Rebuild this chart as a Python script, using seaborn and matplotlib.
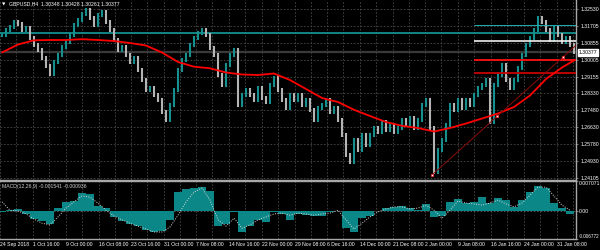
import numpy as np
import matplotlib
matplotlib.use("Agg")
import matplotlib.pyplot as plt
import seaborn as sns

# ---------------- data ----------------
closes = [1.3125, 1.3150, 1.3165, 1.3190, 1.3180, 1.3150, 1.3160, 1.3110, 1.3075, 1.3050,
          1.3010, 1.2970, 1.2930, 1.2990, 1.3025, 1.3065, 1.3090, 1.3125, 1.3175, 1.3200,
          1.3230, 1.3250, 1.3210, 1.3175, 1.3225, 1.3240, 1.3190, 1.3150, 1.3100, 1.3050,
          1.3065, 1.3025, 1.2990, 1.3010, 1.2950, 1.2900, 1.2850, 1.2860, 1.2825, 1.2800,
          1.2740, 1.2700, 1.2775, 1.2850, 1.2950, 1.3000, 1.3025, 1.3075, 1.3110, 1.3135,
          1.3150, 1.3125, 1.3060, 1.3025, 1.2925, 1.2875, 1.2975, 1.3025, 1.3050, 1.2775,
          1.2825, 1.2850, 1.2825, 1.2800, 1.2860, 1.2810, 1.2790, 1.2875, 1.2910, 1.2850,
          1.2800, 1.2760, 1.2825, 1.2800, 1.2825, 1.2775, 1.2800, 1.2750, 1.2700, 1.2760,
          1.2775, 1.2800, 1.2740, 1.2760, 1.2700, 1.2625, 1.2525, 1.2490, 1.2600, 1.2550,
          1.2625, 1.2575, 1.2625, 1.2660, 1.2640, 1.2690, 1.2650, 1.2675, 1.2640, 1.2660,
          1.2700, 1.2675, 1.2710, 1.2660, 1.2700, 1.2775, 1.2800, 1.2660, 1.2440, 1.2550,
          1.2600, 1.2675, 1.2775, 1.2750, 1.2800, 1.2760, 1.2800, 1.2775, 1.2825, 1.2860,
          1.2875, 1.2900, 1.2690, 1.2875, 1.2925, 1.2975, 1.2900, 1.2860, 1.2900, 1.2960,
          1.3025, 1.3075, 1.3110, 1.3150, 1.3210, 1.3190, 1.3150, 1.3100, 1.3160, 1.3125,
          1.3090, 1.3110, 1.3075, 1.3040]

ma_idx = [0, 4, 8, 12, 16, 20, 24, 28, 32, 36, 40, 44, 48, 52, 56, 60, 64, 68, 72, 76,
          80, 84, 88, 92, 96, 100, 104, 108, 112, 116, 120, 124, 128, 132, 136, 140, 143]
ma_vals = [1.30375, 1.30775, 1.30985, 1.3100, 1.3100, 1.3104, 1.3100, 1.3095, 1.3085, 1.30725,
           1.30375, 1.2990, 1.29665, 1.29585, 1.29375, 1.29275, 1.2925, 1.29325, 1.2900, 1.2855,
           1.2810, 1.2790, 1.2751, 1.2720, 1.2690, 1.2671, 1.2660, 1.26425, 1.2660, 1.26825,
           1.27075, 1.27325, 1.2765, 1.28225, 1.2905, 1.29625, 1.29975]

macd_hist = [-0.0003, 0.0001, 0.0004, -0.0008, -0.0020, -0.0025, -0.0032, 0.0006, 0.0021, 0.0023,
             0.0042, 0.0040, 0.0011, 0.0006, -0.0015, -0.0025, -0.0032, -0.0037, -0.0046, -0.0051,
             -0.0049, -0.0022, 0.0044, 0.0052, 0.0054, 0.0056, 0.0047, -0.0037, -0.0032, -0.0003,
             -0.0051, -0.0037, -0.0022, -0.0027, -0.0003, -0.0008, -0.0022, -0.0008, -0.0011, -0.0013,
             -0.0013, -0.0003, -0.0001, -0.0042, -0.0051, -0.0018, -0.0013, -0.0001, 0.0006, 0.0009,
             0.0011, 0.0006, 0.0001, 0.0016, -0.0015, -0.0013, 0.0021, 0.0028, 0.0018, 0.0021,
             0.0032, 0.0018, 0.0030, 0.0025, 0.0009, 0.0025, 0.0044, 0.0059, 0.0054, 0.0018,
             0.0006, -0.0008]
macd_signal = [0.0021, 0.0001, -0.0001, -0.0008, -0.0020, -0.0030, -0.0034, -0.0015, 0.0006, 0.0021,
               0.0035, 0.0032, 0.0018, 0.0001, -0.0013, -0.0022, -0.0030, -0.0037, -0.0044, -0.0051,
               -0.0051, -0.0039, -0.0011, 0.0021, 0.0044, 0.0054, 0.0025, -0.0022, -0.0037, -0.0018,
               -0.0042, -0.0034, -0.0022, -0.0015, -0.0008, -0.0006, -0.0011, -0.0006, -0.0008, -0.0011,
               -0.0008, -0.0006, 0.0001, -0.0022, -0.0044, -0.0030, -0.0015, -0.0003, 0.0004, 0.0009,
               0.0009, 0.0004, 0.0006, 0.0013, 0.0001, -0.0018, 0.0001, 0.0023, 0.0018, 0.0016,
               0.0013, 0.0018, 0.0025, 0.0016, 0.0009, 0.0018, 0.0037, 0.0056, 0.0056, 0.0035,
               0.0013, 0.0001]
macd_idx = list(range(0, 144, 2))

price_ticks = [1.32530, 1.31705, 1.30855, 1.30005, 1.29155, 1.28330, 1.27480, 1.26630,
               1.25780, 1.24930, 1.24105]
macd_ticks = [0.007071, 0.0, -0.006772]
macd_tick_labels = ["0.007071", "0.00", "-0.006772"]

date_labels = ["24 Sep 2018", "1 Oct 16:00", "9 Oct 00:00", "16 Oct 08:00", "23 Oct 16:00",
               "31 Oct 00:00", "7 Nov 08:00", "14 Nov 16:00", "22 Nov 00:00", "29 Nov 08:00",
               "6 Dec 16:00", "14 Dec 00:00", "21 Dec 08:00", "2 Jan 00:00", "9 Jan 08:00",
               "16 Jan 16:00", "24 Jan 00:00", "31 Jan 08:00"]
date_pos = [-0.5, 7.75, 16, 24.25, 32.25, 40.5, 48.5, 56.75, 65, 73.25, 81.25, 89.5,
            97.75, 105.75, 114, 122.25, 130.5, 138.75]

current_price = 1.30377
full_levels = [(1.31335, "#159a9a", 1.2), (current_price, "#3a3a3a", 1.6)]
part_levels = [(1.31735, "#1fb0b0", 0.7), (1.30965, "#f0f0f0", 1.2),
               (1.30000, "#ff1010", 1.3), (1.29365, "#c80000", 1.3)]
levels_start = 118

trend_idx = [107.5, 123.75, 140.25]
trend_price = [1.2425, 1.2720, 1.3015]

title_text = "GBPUSD,H4  1.30348 1.30428 1.30261 1.30377"
macd_text = "MACD(12,26,9) -0.001541 -0.000936"

# ---------------- style ----------------
sns.set_style("dark", rc={"axes.facecolor": "black", "figure.facecolor": "black"})
FONT = ["Liberation Sans Narrow", "Liberation Sans", "DejaVu Sans"]
plt.rcParams["font.family"] = FONT
FS = 3.7
TEAL = "#16908f"
GRAY = "#b4b4b4"
GRID = "#4a4a4a"
FRAME = "#a8a8a8"

fig = plt.figure(figsize=(6, 2.5), dpi=100, facecolor="black")
ax = fig.add_axes([0, 0.282, 0.96, 0.718])
ax2 = fig.add_axes([0, 0.044, 0.96, 0.232])

xlim = (-0.5, 143.5)

# ---------------- main price panel ----------------
close = np.array(closes)
openp = np.r_[close[0], close[:-1]]
idx = np.arange(len(close))
up = close >= openp
wick = 0.0011
lo = np.minimum(openp, close) - wick
hi = np.maximum(openp, close) + wick
ax.vlines(idx[~up], lo[~up], hi[~up], color=GRAY, lw=1.5, zorder=3)
ax.vlines(idx[up], lo[up], hi[up], color=TEAL, lw=1.5, zorder=3)

for val, col, lw in full_levels:
    ax.axhline(val, color=col, lw=lw, zorder=2)
for val, col, lw in part_levels:
    ax.hlines(val, levels_start, xlim[1], color=col, lw=lw, zorder=4)

sns.lineplot(x=ma_idx, y=ma_vals, ax=ax, color="#ff0000", lw=1.3, zorder=5)

# trend line through anchors, extended to the right edge
slope = (trend_price[-1] - trend_price[0]) / (trend_idx[-1] - trend_idx[0])
tx = [trend_idx[0], xlim[1]]
ty = [trend_price[0], trend_price[0] + slope * (xlim[1] - trend_idx[0])]
ax.plot(tx, ty, color="#8b0a0a", lw=0.7, zorder=5)
ax.scatter(trend_idx, trend_price, marker="s", s=4, facecolor="white",
           edgecolor="#ff2020", linewidth=0.5, zorder=6)

ax.set_xlim(*xlim)
ax.set_ylim(1.24025, 1.3300)
ax.set_yticks(price_ticks)
ax.set_yticklabels([f"{p:.5f}" for p in price_ticks])
ax.yaxis.tick_right()
ax.tick_params(axis="y", colors="white", labelsize=FS, length=1.5, width=0.5, pad=1.5,
               color=FRAME)
ax.set_xticks(date_pos)
ax.set_xticks([p + 4.1 for p in date_pos], minor=True)
ax.tick_params(axis="x", which="both", length=0, labelbottom=False)
ax.grid(True, which="both", color=GRID, lw=0.6, ls=(0, (2, 2)))
for s in ["top", "left"]:
    ax.spines[s].set_visible(False)
for s in ["right", "bottom"]:
    ax.spines[s].set_color(FRAME)
    ax.spines[s].set_linewidth(1.0)

ax.text(1.005, current_price, f"{current_price:.5f}", transform=ax.get_yaxis_transform(),
        fontsize=FS, color="black", va="center", ha="left",
        bbox=dict(boxstyle="square,pad=0.12", fc="white", ec="white"), zorder=10)

fig.text(0.004, 0.984, "\u25bc", fontsize=3.2, color="white", va="center", ha="left",
         family=["DejaVu Sans"])
fig.text(0.015, 0.984, title_text, fontsize=FS, color="white", va="center", ha="left")

# ---------------- MACD panel ----------------
ax2.bar(macd_idx, macd_hist, width=2.0, color="#0b8787", linewidth=0, zorder=3)
sns.lineplot(x=macd_idx, y=macd_signal, ax=ax2, color="#d8d8d8", lw=0.7,
             linestyle=(0, (1, 1.5)), zorder=4)
ax2.axhline(0, color="#5a5a5a", lw=0.6, ls=(0, (2, 2)), zorder=2)
ax2.set_xlim(*xlim)
ax2.set_ylim(-0.006772, 0.007071)
ax2.set_yticks(macd_ticks)
ax2.set_yticklabels(macd_tick_labels)
ax2.yaxis.tick_right()
ax2.tick_params(axis="y", colors="white", labelsize=FS, length=1.2, width=0.5, pad=0.8,
                color=FRAME)
tl = ax2.get_yticklabels()
tl[0].set_va("top")
tl[2].set_va("bottom")
tl[2].set_fontsize(3.3)
ax2.set_xticks(date_pos)
ax2.set_xticklabels(date_labels, ha="left")
ax2.set_xticks([p + 4.1 for p in date_pos], minor=True)
ax2.tick_params(axis="x", which="major", colors="white", labelsize=FS, length=1.5,
                width=0.5, pad=1, color=FRAME)
ax2.tick_params(axis="x", which="minor", length=0)
ax2.grid(True, axis="x", which="both", color=GRID, lw=0.6, ls=(0, (2, 2)))
ax2.grid(False, axis="y")
ax2.spines["left"].set_visible(False)
for s in ["top", "right", "bottom"]:
    ax2.spines[s].set_color(FRAME)
    ax2.spines[s].set_linewidth(1.0)
ax2.text(0.004, 0.95, macd_text, transform=ax2.transAxes, fontsize=FS, color="#d0d0d0",
         va="top", ha="left")

fig.savefig("out.png", dpi=100, facecolor="black")
